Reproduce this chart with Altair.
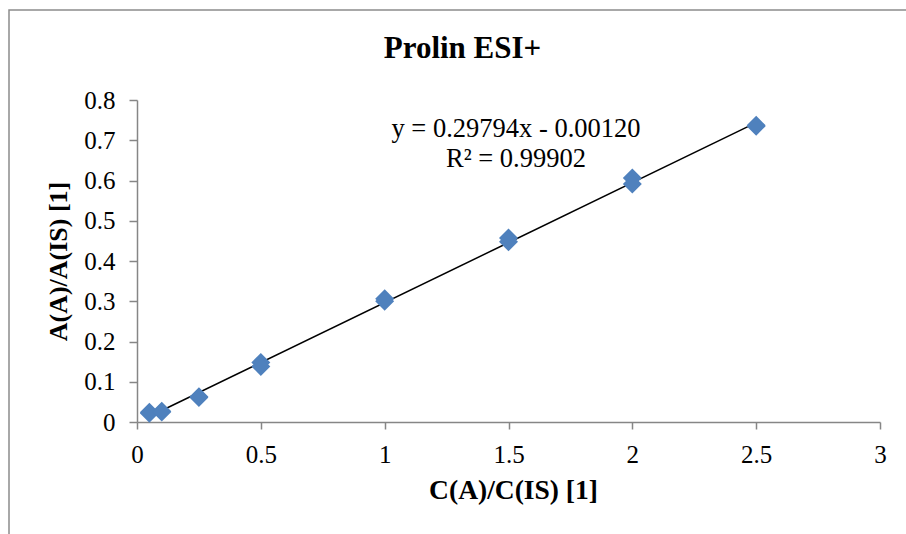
import altair as alt
import pandas as pd

# ---- data ----
conc = [0.05, 0.05, 0.1, 0.1, 0.25, 0.25, 0.5, 0.5, 1.0, 1.0, 1.5, 1.5, 2.0, 2.0, 2.5, 2.5]
ratio = [0.024, 0.022, 0.027, 0.025, 0.063, 0.061, 0.148, 0.138,
         0.306, 0.300, 0.457, 0.448, 0.606, 0.591, 0.737, 0.735]
x_ticks = [0, 0.5, 1, 1.5, 2, 2.5, 3]
y_ticks = [0, 0.1, 0.2, 0.3, 0.4, 0.5, 0.6, 0.7, 0.8]
trend_extent = [0.05, 2.5]

title_text = "Prolin ESI+"
x_title = "C(A)/C(IS) [1]"
y_title = "A(A)/A(IS) [1]"
eq_line = "y = 0.29794x - 0.00120"
r2_line = "R² = 0.99902"

FONT = "Liberation Serif"
GRAY = "#868686"
BLUE = "#4F81BD"

df = pd.DataFrame({"conc": conc, "ratio": ratio})

xs = alt.Scale(domain=[0, 3], nice=False, zero=True)
ys = alt.Scale(domain=[0, 0.8], nice=False, zero=True)

x_axis = alt.Axis(values=x_ticks, format="~g", title=x_title, grid=False, labelFlush=False,
                  titleX=376, titleY=76, titleBaseline="alphabetic", titleAlign="center",
                  titleFontSize=27.5, tickSize=7, labelPadding=13)
y_axis = alt.Axis(values=y_ticks, format="~g", title=y_title, grid=False, labelFlush=False,
                  titleX=-71, titleY=161, titleAngle=270, titleBaseline="alphabetic",
                  titleAlign="center", titleFontSize=26, tickSize=8, labelPadding=14)

base = alt.Chart(df)

points = base.mark_point(shape="diamond", filled=True, size=360, color=BLUE, opacity=1).encode(
    x=alt.X("conc:Q", scale=xs, axis=x_axis),
    y=alt.Y("ratio:Q", scale=ys, axis=y_axis),
)

trend = base.transform_regression("conc", "ratio", extent=trend_extent).mark_line(
    color="black", strokeWidth=1.5
).encode(
    x=alt.X("conc:Q", scale=xs),
    y=alt.Y("ratio:Q", scale=ys),
)

one = alt.Data(values=[{}])

def label(txt, px, py, size, weight="normal"):
    return alt.Chart(one).mark_text(font=FONT, fontSize=size, fontWeight=weight, color="black",
                                    align="center", baseline="alphabetic").encode(
        x=alt.value(px), y=alt.value(py), text=alt.value(txt))

title = label(title_text, 325.5, -42, 31, "bold")
eq1 = label(eq_line, 379, 37, 26.5)
eq2 = label(r2_line, 379, 67, 26.5)

border = alt.Chart(one).mark_rect(fillOpacity=0, stroke="#8c8c8c", strokeWidth=1.5).encode(
    x=alt.value(-128), x2=alt.value(900), y=alt.value(-90), y2=alt.value(600))

chart = alt.layer(border, trend, points, title, eq1, eq2).properties(
    width=743, height=322,
    background="white",
    padding={"left": 137, "top": 100, "right": 26, "bottom": 112},
    autosize=alt.AutoSizeParams(type="none"),
).configure_view(stroke=None).configure_axis(
    grid=False, domainColor=GRAY, tickColor=GRAY, domainWidth=1.5, tickWidth=1.5,
    labelFont=FONT, labelFontSize=25, labelColor="black",
    titleFont=FONT, titleFontWeight="bold", titleColor="black",
)

chart.save("out.html", embed_options={"renderer": "svg", "actions": False})
